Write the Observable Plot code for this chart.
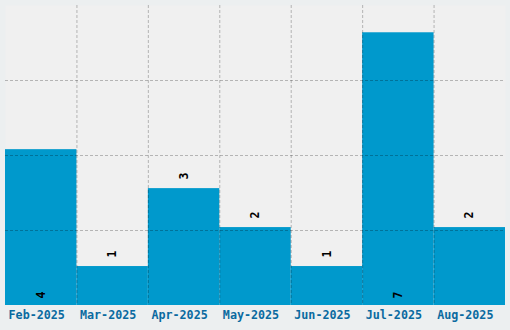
<!DOCTYPE html>
<html>
<head>
<meta charset="utf-8">
<script src="https://cdn.jsdelivr.net/npm/d3@7"></script>
<script src="https://cdn.jsdelivr.net/npm/@observablehq/plot@0.6"></script>
<style>
  html, body { margin: 0; padding: 0; background: #eceff0; }
  #chart svg { display: block; }
</style>
</head>
<body>
<div id="chart"></div>
<script>
const months = ["Feb-2025", "Mar-2025", "Apr-2025", "May-2025", "Jun-2025", "Jul-2025", "Aug-2025"];
const counts = [4, 1, 3, 2, 1, 7, 2];
const yMax = 7.7;
const yGrid = [1.925, 3.85, 5.775];

const data = months.map((m, i) => ({ i, month: m, count: counts[i], inside: counts[i] >= 4 }));
const xGrid = d3.range(1, months.length);

const chart = Plot.plot({
  width: 510,
  height: 330,
  marginLeft: 5,
  marginRight: 5,
  marginTop: 5,
  marginBottom: 25,
  style: { background: "#eceff0", fontFamily: "'DejaVu Sans Mono', monospace" },
  x: { type: "linear", domain: [0, months.length], axis: null },
  y: { domain: [0, yMax], axis: null },
  marks: [
    Plot.frame({ fill: "#f0f0f0", stroke: null }),
    Plot.rectY(data, { x1: "i", x2: d => d.i + 1, y: "count", fill: "#0099cc", inset: 0 }),
    Plot.ruleY(yGrid, { stroke: "#000", strokeOpacity: 0.25, strokeDasharray: "3,2" }),
    Plot.ruleX(xGrid, { stroke: "#000", strokeOpacity: 0.25, strokeDasharray: "3,2" }),
    Plot.text(data.filter(d => !d.inside), {
      x: d => d.i + 0.5, y: "count", text: d => String(d.count),
      rotate: -90, dy: -12.5, fontSize: 11.5, fontWeight: "bold", fill: "#000"
    }),
    Plot.text(data.filter(d => d.inside), {
      x: d => d.i + 0.5, y: () => 0, text: d => String(d.count),
      rotate: -90, dy: -10.5, fontSize: 11.5, fontWeight: "bold", fill: "#000"
    }),
    Plot.axisX({
      ticks: data.map(d => d.i + 0.5),
      tickFormat: v => months[Math.floor(v)],
      tickSize: 0, tickPadding: 5, dx: -4.5,
      fontSize: 11.7, fontWeight: "bold", color: "#0a6aa0", label: null
    })
  ]
});
document.getElementById("chart").appendChild(chart);
</script>
</body>
</html>
